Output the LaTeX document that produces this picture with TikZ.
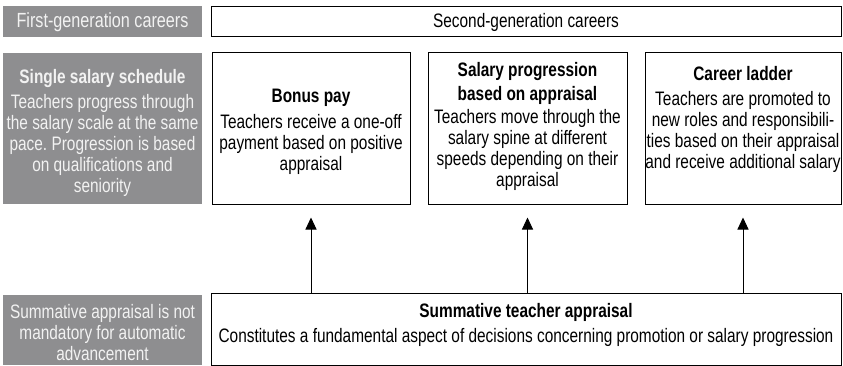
\documentclass[tikz,border=0pt]{standalone}
\usepackage{fontspec}
\setmainfont{Liberation Sans}[FakeStretch=0.79]
\usetikzlibrary{arrows.meta}
\definecolor{boxgray}{HTML}{8E8E90}
\definecolor{graytext}{HTML}{F2F2F2}
\frenchspacing
\begin{document}
\begin{tikzpicture}[x=1pt,y=1pt,
  txt/.style={align=center,inner sep=0pt,font=\fontsize{19.5}{21}\selectfont},
  graybox/.style={fill=boxgray,draw=none,text=graytext,txt},
  whitebox/.style={draw=black,line width=1pt,fill=white,txt},
  arr/.style={-{Triangle[length=12pt,width=11pt]},line width=1pt,shorten >=13pt}]
\useasboundingbox (0,0) rectangle (843,365);
% top row
\node[graybox,minimum width=199pt,minimum height=31pt,font=\fontsize{20.5}{21}\selectfont] (first) at (102.5,343) {First-generation careers};
\node[whitebox,minimum width=630pt,minimum height=30pt] (second) at (526,343) {Second-generation careers};
% middle row
\node[graybox,minimum width=199pt,minimum height=151pt] (single) at (102.5,236.5) {};
\node[txt,text=graytext] (singletext) at ([yshift=-4pt]single.center)
 {\textbf{Single salary schedule}\\[4pt]Teachers progress through\\the salary scale at the same\\pace. Progression is based\\on qualifications and\\seniority};
\node[whitebox,minimum width=198pt,minimum height=151pt] (bonus) at (311,236.5) {};
\node[txt] (bonustext) at ([yshift=-3pt]bonus.center)
 {\textbf{Bonus pay}\\[5pt]Teachers receive a one-off\\payment based on positive\\appraisal};
\node[whitebox,minimum width=199pt,minimum height=151pt] (salprog) at (527.5,236.5) {};
\node[txt] (salprogtext) at ([yshift=2pt]salprog.center)
 {\textbf{Salary progression}\\[3pt]\textbf{based on appraisal}\\[2pt]Teachers move through the\\salary spine at different\\speeds depending on their\\appraisal};
\node[whitebox,minimum width=196pt,minimum height=151pt] (career) at (743,236.5) {};
\node[txt] (careertext) at ([yshift=9pt]career.center)
 {\textbf{Career ladder}\\[4pt]Teachers are promoted to\\new roles and responsibili-\\ties based on their appraisal\\and receive additional salary};
% bottom row
\node[graybox,minimum width=199pt,minimum height=70pt] (summgray) at (102.5,35) {};
\node[txt,text=graytext] (summgraytext) at ([yshift=-3pt]summgray.center)
 {Summative appraisal is not\\mandatory for automatic\\advancement};
\node[whitebox,minimum width=630pt,minimum height=72pt] (summ) at (526,36) {};
\node[txt] (summtext) at ([yshift=4pt]summ.center)
 {\textbf{Summative teacher appraisal}\\[4pt]Constitutes a fundamental aspect of decisions concerning promotion or salary progression};
% arrows
\draw[arr] (summ.north -| bonus.south) -- (bonus.south);
\draw[arr] (summ.north -| salprog.south) -- (salprog.south);
\draw[arr] (summ.north -| career.south) -- (career.south);
\end{tikzpicture}
\end{document}
